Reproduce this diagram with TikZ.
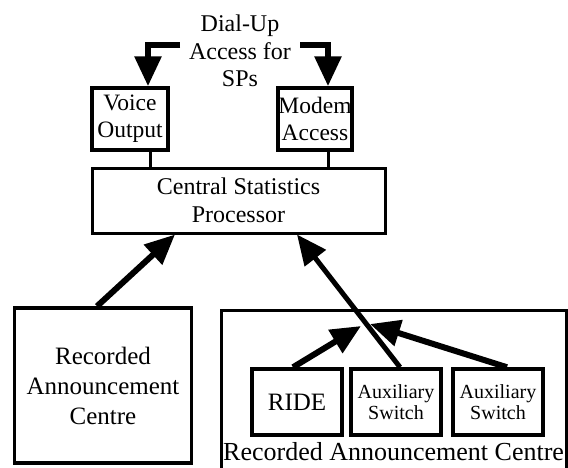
\documentclass[tikz,border=0pt]{standalone}
\usepackage{fontspec}
\setmainfont{Liberation Serif}
\usetikzlibrary{arrows.meta}
\begin{document}
\begin{tikzpicture}[x=1pt,y=-1pt,
  box/.style={draw, line width=3.5pt, inner sep=0pt, align=center, font=\fontsize{23.5}{27}\selectfont},
  smallbox/.style={box, font=\fontsize{20}{21}\selectfont},
  lbl/.style={inner sep=0pt, font=\fontsize{24}{28}\selectfont},
  fat/.style={line width=6pt, -{Triangle[length=30pt,width=26pt]}},
  link/.style={line width=3pt}]
\useasboundingbox (0,0) rectangle (568,467);
% top label
\node[lbl, anchor=base] (dial1) at (240,31) {Dial-Up};
\node[lbl, anchor=base] (dial2) at (240,59) {Access for};
\node[lbl, anchor=base] (dial3) at (240,86) {SPs};
\coordinate (dl) at (180,45);
\coordinate (dr) at (300,45);
% boxes
\node[box, minimum width=76pt, minimum height=62pt] (voice) at (130,119) {Voice\\Output};
\node[box, minimum width=74pt, minimum height=62pt] (modem) at (315,119) {Modem\\Access};
\node[box, line width=3pt, minimum width=293pt, minimum height=65pt, font=\fontsize{24}{28}\selectfont] (csp) at (238.5,200.5) {Central Statistics\\Processor};
\node[box, line width=3.5pt, minimum width=177pt, minimum height=155pt, font=\fontsize{25}{30}\selectfont] (rac) at (103,385.5) {Recorded\\Announcement\\Centre};
% right container
\draw[line width=3pt] (221,475) -- (221,310) -- (566,310) -- (566,475);
\node[inner sep=0pt, anchor=base west, font=\fontsize{26}{30}\selectfont] (racb) at (223,460) {Recorded Announcement Centre};
\node[box, minimum width=90pt, minimum height=66pt, font=\fontsize{25}{30}\selectfont] (ride) at (297,402) {RIDE};
\node[smallbox, minimum width=90pt, minimum height=66pt] (aux1) at (396,402) {Auxiliary\\Switch};
\node[smallbox, minimum width=90pt, minimum height=66pt] (aux2) at (498,402) {Auxiliary\\Switch};
\coordinate (cv1) at (361,326);
\coordinate (cv2) at (370,324);
% connectors
\draw[fat] (dl) -| ([xshift=18pt]voice.north);
\draw[fat] (dr) -| ([xshift=13pt]modem.north);
\draw[link] ([xshift=20pt]voice.south) -- ([xshift=20pt]voice.south |- csp.north);
\draw[link] ([xshift=13pt]modem.south) -- ([xshift=13pt]modem.south |- csp.north);
\draw[fat] ([xshift=-6pt]rac.north) -- ([xshift=-63.5pt]csp.south);
\draw[fat, line width=5pt] ([xshift=4pt]aux1.north) -- ([xshift=58.5pt]csp.south);
\draw[fat] ([xshift=-4pt]ride.north) -- (cv1);
\draw[fat] ([xshift=9pt]aux2.north) -- (cv2);
\end{tikzpicture}
\end{document}
